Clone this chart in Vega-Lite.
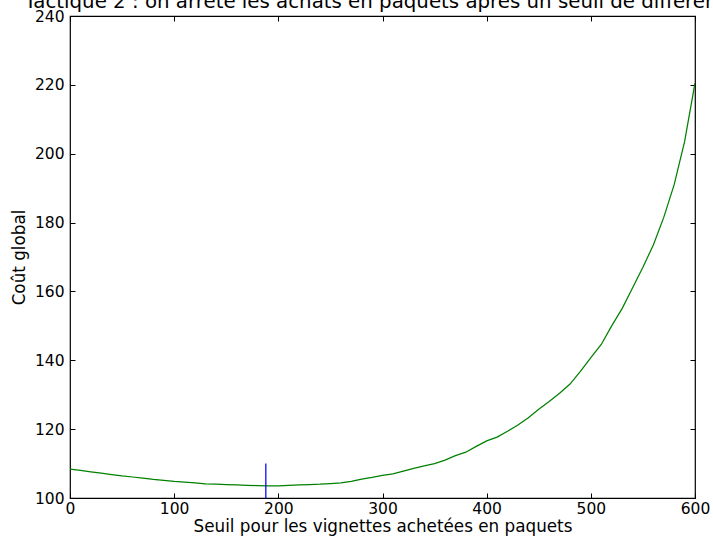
{
  "$schema": "https://vega.github.io/schema/vega-lite/v6.json",
  "width": 625,
  "height": 482,
  "autosize": {"type": "none"},
  "padding": {"left": 70, "top": 16, "right": 18, "bottom": 42},
  "title": {
    "text": "Tactique 2 : on arrête les achats en paquets après un seuil de différence",
    "fontSize": 19.8,
    "font": "DejaVu Sans",
    "fontWeight": "normal",
    "anchor": "middle",
    "baseline": "bottom",
    "offset": -23,
    "color": "black"
  },
  "config": {
    "view": {"stroke": "black", "strokeWidth": 1.2},
    "axis": {
      "domain": false,
      "grid": false,
      "ticks": true,
      "tickSize": -5,
      "tickColor": "black",
      "tickWidth": 1,
      "labelFont": "DejaVu Sans",
      "labelFontSize": 15.5,
      "labelColor": "black",
      "titleFont": "DejaVu Sans",
      "titleFontSize": 16.8,
      "titleFontWeight": "normal",
      "titleColor": "black"
    }
  },
  "resolve": {"axis": {"x": "independent", "y": "independent"}},
  "layer": [
    {
      "data": {
        "values": [
          {"seuil": 0, "cout": 108.4}, {"seuil": 10, "cout": 108.0}, {"seuil": 20, "cout": 107.6},
          {"seuil": 30, "cout": 107.2}, {"seuil": 40, "cout": 106.8}, {"seuil": 50, "cout": 106.4},
          {"seuil": 60, "cout": 106.1}, {"seuil": 70, "cout": 105.8}, {"seuil": 80, "cout": 105.4},
          {"seuil": 90, "cout": 105.1}, {"seuil": 100, "cout": 104.8}, {"seuil": 110, "cout": 104.6},
          {"seuil": 120, "cout": 104.4}, {"seuil": 130, "cout": 104.1}, {"seuil": 140, "cout": 104.0},
          {"seuil": 150, "cout": 103.9}, {"seuil": 160, "cout": 103.8}, {"seuil": 170, "cout": 103.7},
          {"seuil": 180, "cout": 103.6}, {"seuil": 190, "cout": 103.5}, {"seuil": 200, "cout": 103.5},
          {"seuil": 210, "cout": 103.7}, {"seuil": 220, "cout": 103.8}, {"seuil": 230, "cout": 103.9},
          {"seuil": 240, "cout": 104.0}, {"seuil": 250, "cout": 104.2}, {"seuil": 260, "cout": 104.4},
          {"seuil": 270, "cout": 104.8}, {"seuil": 280, "cout": 105.5}, {"seuil": 290, "cout": 106.0},
          {"seuil": 300, "cout": 106.6}, {"seuil": 310, "cout": 107.0}, {"seuil": 320, "cout": 107.8},
          {"seuil": 330, "cout": 108.6}, {"seuil": 340, "cout": 109.3}, {"seuil": 350, "cout": 110.0},
          {"seuil": 360, "cout": 111.0}, {"seuil": 370, "cout": 112.3}, {"seuil": 380, "cout": 113.3},
          {"seuil": 390, "cout": 115.0}, {"seuil": 400, "cout": 116.6}, {"seuil": 410, "cout": 117.7},
          {"seuil": 420, "cout": 119.4}, {"seuil": 430, "cout": 121.2}, {"seuil": 440, "cout": 123.3},
          {"seuil": 450, "cout": 125.8}, {"seuil": 460, "cout": 128.0}, {"seuil": 470, "cout": 130.4},
          {"seuil": 480, "cout": 133.1}, {"seuil": 490, "cout": 136.8}, {"seuil": 500, "cout": 140.8},
          {"seuil": 510, "cout": 144.6}, {"seuil": 520, "cout": 150.0}, {"seuil": 530, "cout": 155.0},
          {"seuil": 540, "cout": 161.0}, {"seuil": 550, "cout": 167.0}, {"seuil": 560, "cout": 173.5},
          {"seuil": 570, "cout": 181.5}, {"seuil": 580, "cout": 191.0}, {"seuil": 590, "cout": 203.5},
          {"seuil": 600, "cout": 220.5}
        ]
      },
      "mark": {"type": "line", "color": "#008000", "strokeWidth": 1.25, "clip": true},
      "encoding": {
        "x": {
          "field": "seuil", "type": "quantitative",
          "scale": {"domain": [0, 600], "nice": false, "zero": false},
          "axis": {"orient": "bottom", "values": [0, 100, 200, 300, 400, 500, 600], "labelPadding": 8, "title": "Seuil pour les vignettes achetées en paquets", "titlePadding": 2, "labelFlush": false}
        },
        "y": {
          "field": "cout", "type": "quantitative",
          "scale": {"domain": [100, 240], "nice": false, "zero": false},
          "axis": {"orient": "left", "values": [100, 120, 140, 160, 180, 200, 220, 240], "labelPadding": 11, "title": "Coût global", "titlePadding": 6, "labelFlush": false}
        }
      }
    },
    {
      "data": {"values": [{"seuil": 188, "bas": 100, "haut": 110}]},
      "mark": {"type": "rule", "color": "#0000ff", "strokeWidth": 1.25},
      "encoding": {
        "x": {
          "field": "seuil", "type": "quantitative",
          "scale": {"domain": [0, 600], "nice": false, "zero": false},
          "axis": {"orient": "top", "values": [0, 100, 200, 300, 400, 500, 600], "labels": false, "title": null}
        },
        "y": {
          "field": "bas", "type": "quantitative",
          "scale": {"domain": [100, 240], "nice": false, "zero": false},
          "axis": {"orient": "right", "values": [100, 120, 140, 160, 180, 200, 220, 240], "labels": false, "title": null}
        },
        "y2": {"field": "haut"}
      }
    }
  ]
}
